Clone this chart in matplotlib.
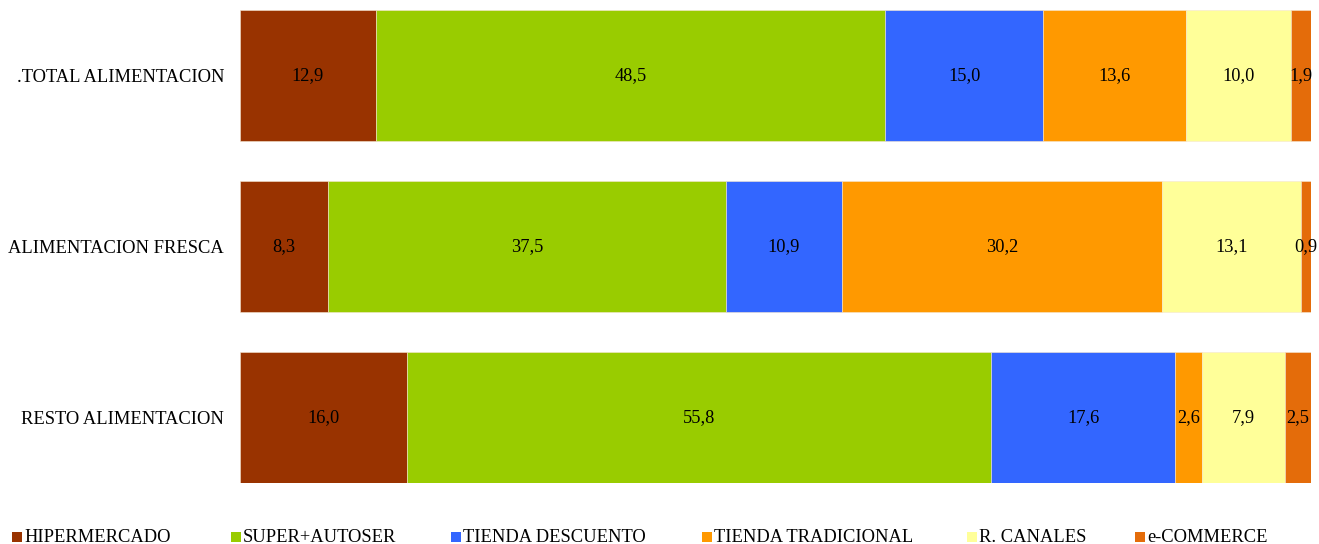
import matplotlib.pyplot as plt
import matplotlib.patches as patches
import numpy as np

plt.rcParams['font.family'] = ['Liberation Serif', 'DejaVu Serif']

# Data
categories = ['.TOTAL ALIMENTACION', 'ALIMENTACION FRESCA', 'RESTO ALIMENTACION']
channels = ['HIPERMERCADO', 'SUPER+AUTOSER', 'TIENDA DESCUENTO',
            'TIENDA TRADICIONAL', 'R. CANALES', 'e-COMMERCE']
hiper = [12.9, 8.3, 16.0]
super_auto = [48.5, 37.5, 55.8]
descuento = [15.0, 10.9, 17.6]
tradicional = [13.6, 30.2, 2.6]
r_canales = [10.0, 13.1, 7.9]
ecommerce = [1.9, 0.9, 2.5]

colors = ['#993300', '#99CC00', '#3366FF', '#FF9900', '#FFFF99', '#E46C0A']

series = np.array([hiper, super_auto, descuento, tradicional, r_canales, ecommerce])
totals = series.sum(axis=0)
shares = series / totals * 100  # 100% stacked

fig = plt.figure(figsize=(13.19, 5.44), dpi=100)
ax = fig.add_axes([240 / 1319, 61 / 544, 1071 / 1319, 473 / 544])

y = np.arange(len(categories))
left = np.zeros(len(categories))
for i, name in enumerate(channels):
    ax.barh(y, shares[i], left=left, height=0.766, color=colors[i],
            edgecolor='#f5e6d0', linewidth=0.4)
    for j in range(len(categories)):
        ax.text(left[j] + shares[i][j] / 2, y[j], f'{series[i][j]:.1f}'.replace('.', ','),
                ha='center', va='center', fontsize=13.2, color='black')
    left += shares[i]

ax.set_xlim(0, 100)
ax.set_ylim(len(categories) - 1 + 0.383, -0.383)
ax.set_yticks(y)
ax.set_yticklabels(categories, fontsize=13.3)
ax.tick_params(axis='y', length=0, pad=11.5)
ax.set_xticks([])
for s in ax.spines.values():
    s.set_visible(False)

# Legend along the bottom
leg_x = [12, 231, 451, 702, 967, 1135]
for xp, name, c in zip(leg_x, channels, colors):
    fig.patches.append(patches.Rectangle((xp / 1319, (544 - 542) / 544), 10 / 1319, 10 / 544,
                                         transform=fig.transFigure, facecolor=c,
                                         edgecolor='none'))
    fig.text((xp + 12) / 1319, (544 - 537) / 544, name, fontsize=13.3,
             ha='left', va='center')

fig.savefig('out.png', dpi=100, facecolor='white')
